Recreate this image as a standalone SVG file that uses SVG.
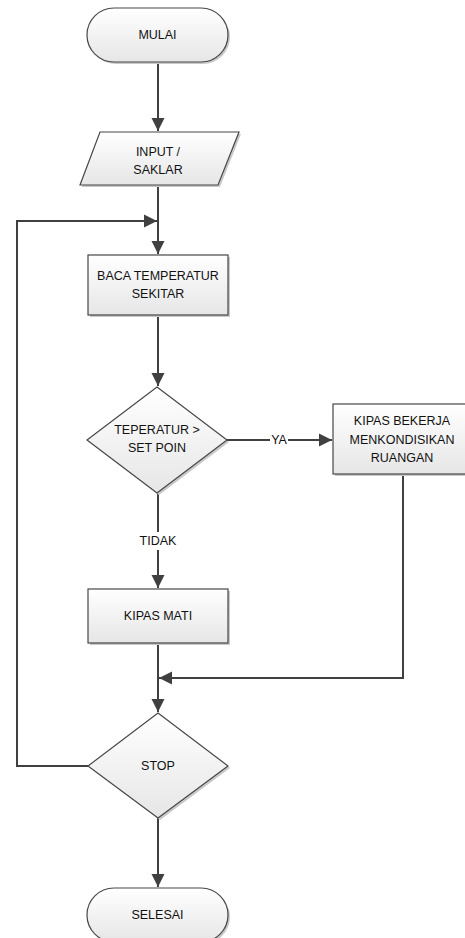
<svg xmlns="http://www.w3.org/2000/svg" width="465" height="938" viewBox="0 0 465 938">
<style>
.shape{fill:url(#g);stroke:#474747;stroke-width:1.2}
.shadow{fill:#c9c9c9;stroke:none}
.t{font-family:"Liberation Sans",Arial,sans-serif;font-size:12.5px;fill:#111111;text-anchor:middle;dominant-baseline:central}
.c{fill:none;stroke:#404040;stroke-width:2}
</style>
<defs>
<linearGradient id="g" x1="0" y1="0" x2="0" y2="1">
<stop offset="0" stop-color="#ffffff"/>
<stop offset="1" stop-color="#e6e6e6"/>
</linearGradient>
<marker id="a" markerUnits="userSpaceOnUse" markerWidth="14" markerHeight="14" viewBox="0 0 14 14" refX="13" refY="7" orient="auto">
<path d="M0,0.5 L13,7 L0,13.5 Z" fill="#404040"/>
</marker>
</defs>
<rect width="465" height="938" fill="#ffffff"/>
<g id="connectors">
<path class="c" d="M158,62 V131" marker-end="url(#a)"/>
<path class="c" d="M158,185 V254" marker-end="url(#a)"/>
<path class="c" d="M88,766 H17 V221 H157" marker-end="url(#a)"/>
<path class="c" d="M158,315 V386" marker-end="url(#a)"/>
<path class="c" d="M227,440 H332" marker-end="url(#a)"/>
<path class="c" d="M158,493 V588" marker-end="url(#a)"/>
<path class="c" d="M403,474 V678 H159" marker-end="url(#a)"/>
<path class="c" d="M158,643 V712" marker-end="url(#a)"/>
<path class="c" d="M158,818 V887" marker-end="url(#a)"/>
<rect x="270" y="432" width="18" height="16" fill="#ffffff"/>
<text class="t" x="279" y="440">YA</text>
<rect x="138" y="532" width="40" height="18" fill="#ffffff"/>
<text class="t" x="158" y="541">TIDAK</text>
</g>
<g id="mulai">
<rect class="shadow" x="89" y="10" width="141" height="54" rx="27"/>
<rect class="shape" x="87" y="8" width="141" height="54" rx="27"/>
<text class="t" x="157.5" y="35">MULAI</text>
</g>
<g id="input">
<polygon class="shadow" points="102,134 241,134 220,187 82,187"/>
<polygon class="shape" points="100,132 239,132 218,185 80,185"/>
<text class="t" x="158" y="152">INPUT /</text>
<text class="t" x="158" y="170">SAKLAR</text>
</g>
<g id="baca">
<rect class="shadow" x="90" y="257" width="140" height="60"/>
<rect class="shape" x="88" y="255" width="140" height="60"/>
<text class="t" x="158" y="276">BACA TEMPERATUR</text>
<text class="t" x="158" y="294">SEKITAR</text>
</g>
<g id="cek">
<polygon class="shadow" points="159,389 229,442 159,495 89,442"/>
<polygon class="shape" points="157,387 227,440 157,493 87,440"/>
<text class="t" x="157" y="430">TEPERATUR &gt;</text>
<text class="t" x="157" y="448">SET POIN</text>
</g>
<g id="kipas-bekerja">
<rect class="shadow" x="335" y="406" width="140" height="70"/>
<rect class="shape" x="333" y="404" width="140" height="70"/>
<text class="t" x="402" y="421">KIPAS BEKERJA</text>
<text class="t" x="402" y="440">MENKONDISIKAN</text>
<text class="t" x="402" y="458">RUANGAN</text>
</g>
<g id="kipas-mati">
<rect class="shadow" x="90" y="591" width="140" height="54"/>
<rect class="shape" x="88" y="589" width="140" height="54"/>
<text class="t" x="158" y="616">KIPAS MATI</text>
</g>
<g id="stop">
<polygon class="shadow" points="160,715 230,768 160,820 90,768"/>
<polygon class="shape" points="158,713 228,766 158,818 88,766"/>
<text class="t" x="158" y="766">STOP</text>
</g>
<g id="selesai">
<rect class="shadow" x="89" y="890" width="141" height="54" rx="27"/>
<rect class="shape" x="87" y="888" width="141" height="54" rx="27"/>
<text class="t" x="157.5" y="915">SELESAI</text>
</g>
</svg>
